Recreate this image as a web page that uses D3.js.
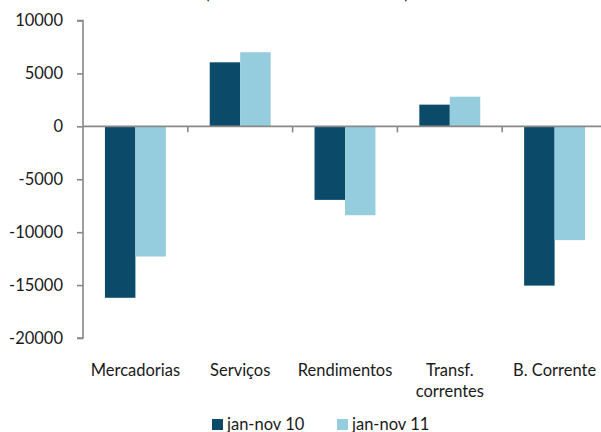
<html>
<head>
    <script src="https://cdn.jsdelivr.net/npm/d3@7"></script>
    <style>
        body { margin: 0; background: #fff; }
        text { font-family: Lato, "Open Sans", sans-serif; fill: #1a1a1a; }
    </style>
</head>
<body>
    <svg width="601" height="432" id="chart"></svg>
    <script>
        // values (millions of euros)
        const categories = ["Mercadorias", "Serviços", "Rendimentos", "Transf. correntes", "B. Corrente"];
        const categoryLines = [["Mercadorias"], ["Serviços"], ["Rendimentos"], ["Transf.", "correntes"], ["B. Corrente"]];
        const seriesNames = ["jan-nov 10", "jan-nov 11"];
        const values10 = [-16200, 6050, -6950, 2050, -15050];
        const values11 = [-12300, 7000, -8400, 2800, -10750];
        const yTicks = [10000, 5000, 0, -5000, -10000, -15000, -20000];
        const colors = ["#0c4a6a", "#95cddf"];
        const title = "(saldos em milhões de euros)";

        const svg = d3.select("#chart");
        const fontSize = 16.5;

        const data = categories.map((c, i) => ({ cat: c, vals: [values10[i], values11[i]] }));

        // scales
        const x0 = d3.scaleBand().domain(categories).range([83, 607]).padding(0);
        const x1 = d3.scaleBand().domain(seriesNames).range([0, x0.bandwidth()]).paddingInner(0).paddingOuter(0.72);
        const y = d3.scaleLinear().domain([-20000, 10000]).range([338, 20.5]);
        const color = d3.scaleOrdinal().domain(seriesNames).range(colors);

        // title (mostly above the visible area, as in the reference)
        svg.append("text")
            .attr("x", 307).attr("y", -1)
            .attr("text-anchor", "middle")
            .attr("textLength", 204)
            .style("font-size", fontSize + "px")
            .text(title);

        // bars
        const groups = svg.append("g").selectAll("g")
            .data(data)
            .join("g")
            .attr("transform", d => `translate(${x0(d.cat)},0)`);

        groups.selectAll("rect")
            .data(d => d.vals.map((v, i) => ({ key: seriesNames[i], v: v })))
            .join("rect")
            .attr("x", d => x1(d.key))
            .attr("width", x1.bandwidth())
            .attr("y", d => y(Math.max(0, d.v)))
            .attr("height", d => Math.abs(y(d.v) - y(0)))
            .attr("fill", d => color(d.key));

        // y axis (plain hyphen for negatives, like the reference)
        const yAxis = d3.axisLeft(y).tickValues(yTicks).tickSize(6).tickPadding(14).tickFormat(d => String(d));
        const yG = svg.append("g").attr("transform", "translate(83,0)").call(yAxis);
        yG.select(".domain").attr("stroke", "#888").attr("stroke-width", 1.6).attr("d", `M-6,${y(10000)}H0V${y(-20000)}H-6`);
        yG.selectAll(".tick line").attr("stroke", "#888").attr("stroke-width", 1.6);
        yG.selectAll(".tick text")
            .style("font-size", fontSize + "px")
            .style("font-family", "Lato, sans-serif")
            .attr("fill", "#1a1a1a");

        // x axis at zero, ticks between categories
        const xG = svg.append("g").attr("transform", `translate(0,${y(0)})`);
        xG.append("line")
            .attr("x1", 83).attr("x2", 607)
            .attr("stroke", "#888").attr("stroke-width", 1.6);
        xG.selectAll(".sep")
            .data(categories.slice(1))
            .join("line")
            .attr("class", "sep")
            .attr("x1", d => x0(d)).attr("x2", d => x0(d))
            .attr("y1", 0).attr("y2", 6)
            .attr("stroke", "#888").attr("stroke-width", 1.6);

        // category labels
        const labels = svg.append("g").selectAll("text")
            .data(categoryLines)
            .join("text")
            .attr("text-anchor", "middle")
            .attr("transform", (d, i) => `translate(${x0(categories[i]) + x0.bandwidth() / 2},376)`)
            .style("font-size", fontSize + "px");

        labels.selectAll("tspan")
            .data(d => d)
            .join("tspan")
            .attr("x", 0)
            .attr("y", (d, i) => i * 21)
            .text(d => d);

        // legend
        const legendX = [212, 337];
        const legend = svg.append("g").selectAll("g")
            .data(seriesNames)
            .join("g")
            .attr("transform", (d, i) => `translate(${legendX[i]},419)`);

        legend.append("rect")
            .attr("width", 11).attr("height", 11)
            .attr("fill", d => color(d));

        legend.append("text")
            .attr("x", 15).attr("y", 10.5)
            .style("font-size", fontSize + "px")
            .text(d => d);
    </script>
</body>
</html>
